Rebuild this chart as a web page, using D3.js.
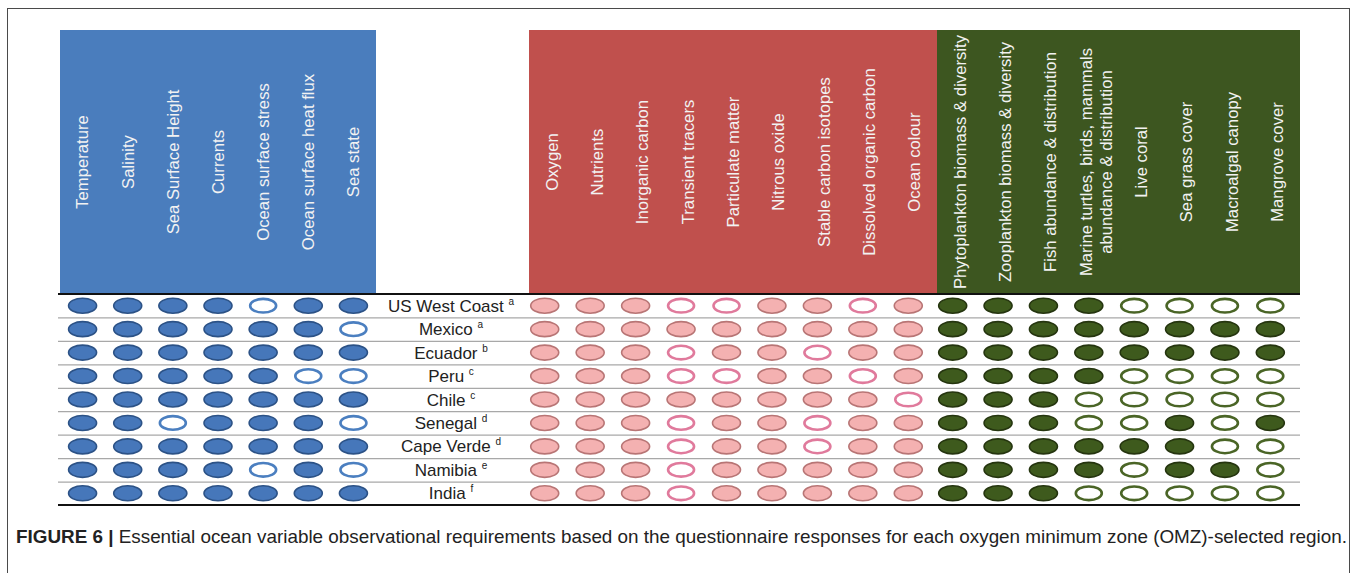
<!DOCTYPE html>
<html>
<head>
<meta charset="utf-8">
<script src="https://cdn.jsdelivr.net/npm/d3@7"></script>
<style>
  html, body { margin: 0; padding: 0; background: #fff; }
  svg { display: block; }
  text { font-family: "Liberation Sans", Arial, Helvetica, sans-serif; }
</style>
</head>
<body>
<svg id="chart" width="1357" height="573"></svg>
<script>
// ---------------- DATA ----------------
const regions = ["US West Coast", "Mexico", "Ecuador", "Peru", "Chile", "Senegal", "Cape Verde", "Namibia", "India"];
const regionNotes = ["a", "a", "b", "c", "c", "d", "d", "e", "f"];

const physicalVars = ["Temperature", "Salinity", "Sea Surface Height", "Currents", "Ocean surface stress", "Ocean surface heat flux", "Sea state"];
const biogeoVars = ["Oxygen", "Nutrients", "Inorganic carbon", "Transient tracers", "Particulate matter", "Nitrous oxide", "Stable carbon isotopes", "Dissolved organic carbon", "Ocean colour"];
const bioVars = ["Phytoplankton biomass & diversity", "Zooplankton biomass & diversity", "Fish abundance & distribution", "Marine turtles, birds, mammals|abundance & distribution", "Live coral", "Sea grass cover", "Macroalgal canopy", "Mangrove cover"];

// 1 = required (filled), 0 = not required (open)
const physicalValues = [
  [1,1,1,1,0,1,1],
  [1,1,1,1,1,1,0],
  [1,1,1,1,1,1,1],
  [1,1,1,1,1,0,0],
  [1,1,1,1,1,1,1],
  [1,1,0,1,1,1,0],
  [1,1,1,1,1,1,1],
  [1,1,1,1,0,1,0],
  [1,1,1,1,1,1,1]
];
const biogeoValues = [
  [1,1,1,0,0,1,1,0,1],
  [1,1,1,1,1,1,1,1,1],
  [1,1,1,0,1,1,0,1,1],
  [1,1,1,0,0,1,1,0,1],
  [1,1,1,1,1,1,1,1,0],
  [1,1,1,0,1,1,0,1,1],
  [1,1,1,0,1,1,0,1,1],
  [1,1,1,0,1,1,1,1,1],
  [1,1,1,0,1,1,1,1,1]
];
const bioValues = [
  [1,1,1,1,0,0,0,0],
  [1,1,1,1,1,1,1,1],
  [1,1,1,1,1,1,1,1],
  [1,1,1,1,0,0,0,0],
  [1,1,1,0,0,0,0,0],
  [1,1,1,0,0,1,0,1],
  [1,1,1,1,1,1,0,0],
  [1,1,1,1,0,1,1,0],
  [1,1,1,0,0,0,0,0]
];
const captionBold = "FIGURE 6 |";
const captionText = " Essential ocean variable observational requirements based on the questionnaire responses for each oxygen minimum zone (OMZ)-selected region.";

// ---------------- LAYOUT ----------------
const svg = d3.select("#chart");
const headerTop = 30, headerBottom = 294, tableBottom = 505;
const lineLeft = 58, lineRight = 1300;

const groups = [
  { vars: physicalVars, values: physicalValues, head: [60, 376], marks: [60, 376],
    headFill: "#4a7dbd", fill: "#4677ba", stroke: "#2c5286", openStroke: "#4b7fc0" },
  { vars: biogeoVars, values: biogeoValues, head: [529, 937], marks: [522, 931],
    headFill: "#c0504d", fill: "#f4b1b1", stroke: "#b87575", openStroke: "#e07a9c" },
  { vars: bioVars, values: bioValues, head: [937, 1300], marks: [930, 1293],
    headFill: "#3d5620", fill: "#3e5a1d", stroke: "#25350f", openStroke: "#4a6526" }
];

const y = d3.scaleBand().domain(regions).range([headerBottom, tableBottom]);

// outer frame (bottom edge off-canvas)
svg.append("rect").attr("x", 7.5).attr("y", 8.5).attr("width", 1342).attr("height", 620)
  .attr("fill", "none").attr("stroke", "#4a4a4a").attr("stroke-width", 1);

// headers
groups.forEach(g => {
  const hx = d3.scaleBand().domain(g.vars).range(g.head);
  svg.append("rect").attr("x", g.head[0]).attr("y", headerTop)
    .attr("width", g.head[1] - g.head[0]).attr("height", headerBottom - headerTop)
    .attr("fill", g.headFill);
  const midY = (headerTop + headerBottom) / 2;
  g.vars.forEach(v => {
    const lines = v.split("|");
    const t = svg.append("text")
      .attr("transform", `translate(${hx(v) + hx.bandwidth() / 2},${midY}) rotate(-90)`)
      .attr("text-anchor", "middle").attr("fill", "#f2f2f2").attr("font-size", 16.7);
    lines.forEach((ln, i) => {
      const first = lines.length === 1 ? 0.35 : (0.35 - 0.6 * (lines.length - 1));
      t.append("tspan").attr("x", 0).attr("dy", (i === 0 ? first : 1.2) + "em").text(ln);
    });
  });
});

// row separators
regions.slice(1).forEach(r => {
  svg.append("line").attr("x1", lineLeft).attr("x2", lineRight)
    .attr("y1", y(r) + 0.5).attr("y2", y(r) + 0.5)
    .attr("stroke", "#a8a8a8").attr("stroke-width", 1.2);
});
svg.append("line").attr("x1", lineLeft).attr("x2", lineRight)
  .attr("y1", headerBottom).attr("y2", headerBottom).attr("stroke", "#111").attr("stroke-width", 2);
svg.append("line").attr("x1", lineLeft).attr("x2", lineRight)
  .attr("y1", tableBottom).attr("y2", tableBottom).attr("stroke", "#111").attr("stroke-width", 2);

// marks
groups.forEach(g => {
  const mx = d3.scaleBand().domain(g.vars).range(g.marks);
  const cells = [];
  regions.forEach((r, ri) => g.vars.forEach((v, vi) => cells.push({ r, v, val: g.values[ri][vi] })));
  svg.append("g").selectAll("ellipse").data(cells).join("ellipse")
    .attr("cx", d => mx(d.v) + mx.bandwidth() / 2)
    .attr("cy", d => y(d.r) + y.bandwidth() / 2)
    .attr("rx", d => d.val ? 14 : 13)
    .attr("ry", d => d.val ? 7.5 : 6.8)
    .attr("fill", d => d.val ? g.fill : "#fff")
    .attr("stroke", d => d.val ? g.stroke : g.openStroke)
    .attr("stroke-width", d => d.val ? 1.6 : 2.6);
});

// region labels
const labelX = 451;
regions.forEach((r, i) => {
  const t = svg.append("text").attr("x", labelX).attr("y", y(r) + y.bandwidth() / 2 + 6)
    .attr("text-anchor", "middle").attr("font-size", 17).attr("fill", "#222");
  t.append("tspan").text(r + " ");
  t.append("tspan").attr("font-size", 10).attr("dy", -7).text(regionNotes[i]);
});

// caption
const cap = svg.append("text").attr("x", 16).attr("y", 543).attr("font-size", 18.5).attr("fill", "#222")
  .attr("textLength", 1331).attr("lengthAdjust", "spacingAndGlyphs");
cap.append("tspan").attr("font-weight", "bold").text(captionBold);
cap.append("tspan").text(captionText);
</script>
</body>
</html>
